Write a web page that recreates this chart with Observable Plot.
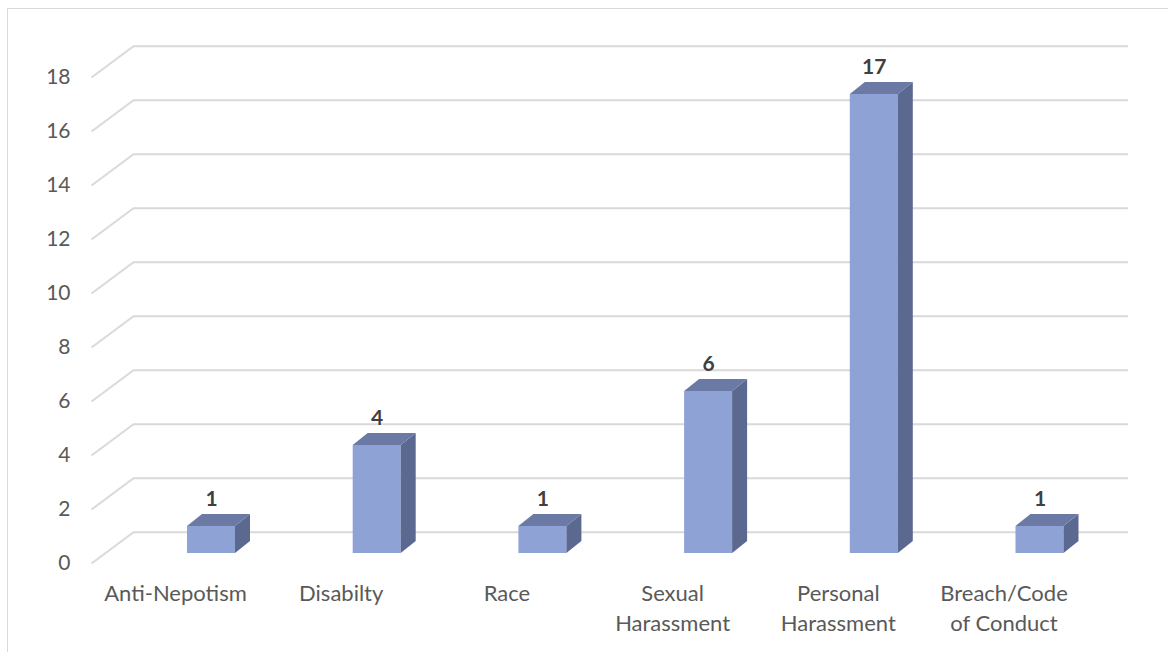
<!DOCTYPE html>
<html>
<head>
<meta charset="utf-8">
<script src="https://cdn.jsdelivr.net/npm/d3@7"></script>
<script src="https://cdn.jsdelivr.net/npm/@observablehq/plot@0.6"></script>
<style>
  html, body { margin: 0; padding: 0; background: #fff; overflow: hidden; }
  #wrap { position: relative; width: 1168px; height: 652px; }
  #border {
    position: absolute; left: 7px; top: 8px; width: 2000px; height: 2000px;
    border-left: 1px solid #d9d9d9; border-top: 1px solid #d9d9d9;
  }
  #chart { position: absolute; left: 0; top: 0; }
</style>
</head>
<body>
<div id="wrap"><div id="border"></div><div id="chart"></div></div>
<script>
// Complaint counts by category
const categories = ["Anti-Nepotism", "Disabilty", "Race", "Sexual\nHarassment", "Personal\nHarassment", "Breach/Code\nof Conduct"];
const counts = [1, 4, 1, 6, 17, 1];
const yTicks = [0, 2, 4, 6, 8, 10, 12, 14, 16, 18];

const rows = categories.map((name, i) => ({i, name, value: counts[i]}));

// Scale layout: x in category index units, y in counts (front plane of the bars)
const X_RANGE = [211, 1039.5];
const Y_RANGE = [553, 67];
const kx = (X_RANGE[1] - X_RANGE[0]) / (categories.length - 1);
const ky = (Y_RANGE[0] - Y_RANGE[1]) / 18;
const lenX = px => px / kx;
const lenY = px => px / ky;

// 3D geometry (pixel lengths converted to data units)
const barHalf = lenX(24);
const depthX = lenX(15), depthY = lenY(12);
const wallX = [lenX(133 - X_RANGE[0]), lenX(1128 - X_RANGE[0])];
const wallRise = lenY(21.3);
const floorX = lenX(91 - X_RANGE[0]);
const floorDrop = lenY(10);

const FRONT = "#8fa2d5", TOP = "#6a7aa4", SIDE = "#5b6890";
const GRID = "#d9d9d9";

const sideFaces = rows.flatMap(d => [
  {k: d.i, x: d.i + barHalf, y1: 0, y2: d.value},
  {k: d.i, x: d.i + barHalf + depthX, y1: depthY, y2: d.value + depthY}
]);
const topFaces = rows.flatMap(d => [
  {k: d.i, x: d.i - barHalf, y1: d.value, y2: d.value},
  {k: d.i, x: d.i - barHalf + depthX, y1: d.value, y2: d.value + depthY},
  {k: d.i, x: d.i + barHalf, y1: d.value, y2: d.value + depthY},
  {k: d.i, x: d.i + barHalf + depthX, y1: d.value + depthY, y2: d.value + depthY}
]);

const chart = Plot.plot({
  width: 1168,
  height: 652,
  style: {background: "transparent", fontFamily: "Lato, 'Open Sans', sans-serif", overflow: "visible"},
  x: {type: "linear", domain: [0, categories.length - 1], range: X_RANGE, axis: null},
  y: {type: "linear", domain: [0, 18], range: Y_RANGE, axis: null},
  marks: [
    // back wall gridlines
    Plot.ruleY(yTicks, {y: d => d + wallRise, x1: wallX[0], x2: wallX[1], stroke: GRID, strokeWidth: 2}),
    // side wall diagonals
    Plot.link(yTicks, {x1: floorX, y1: d => d - floorDrop, x2: wallX[0], y2: d => d + wallRise, stroke: GRID, strokeWidth: 2}),
    // y tick labels
    Plot.text(yTicks, {x: floorX, y: d => d - floorDrop, text: d => String(d), textAnchor: "end", dx: -21, fontSize: 21, fill: "#595959"}),
    // bars: front, side and top faces
    Plot.rectY(rows, {x1: d => d.i - barHalf, x2: d => d.i + barHalf, y1: 0, y2: "value", fill: FRONT}),
    Plot.area(sideFaces, {x1: "x", y1: "y1", y2: "y2", z: "k", fill: SIDE, curve: "linear"}),
    Plot.area(topFaces, {x1: "x", y1: "y1", y2: "y2", z: "k", fill: TOP, curve: "linear"}),
    // value labels
    Plot.text(rows, {x: "i", y: d => d.value + depthY, text: d => String(d.value), dy: -15, fontSize: 21, fontWeight: "bold", fill: "#404040"}),
    // category labels
    Plot.text(rows, {x: "i", y: 0, text: "name", dx: -36, dy: 26, lineAnchor: "top", lineHeight: 1.36, fontSize: 22, fill: "#595959"})
  ]
});
document.getElementById("chart").appendChild(chart);
</script>
</body>
</html>
